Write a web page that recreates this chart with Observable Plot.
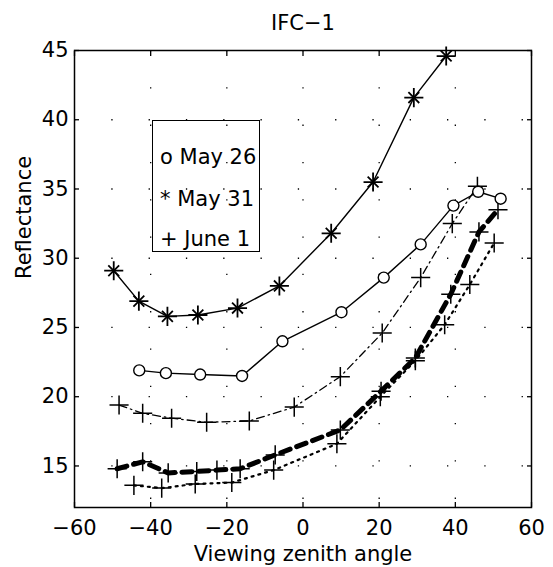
<!DOCTYPE html>
<html>
<head>
<meta charset="utf-8">
<script src="https://cdn.jsdelivr.net/npm/d3@7"></script>
<script src="https://cdn.jsdelivr.net/npm/@observablehq/plot@0.6"></script>
<style>
  html, body { margin: 0; padding: 0; background: white; }
  #wrap { position: relative; width: 553px; height: 567px; }
  #legend { position: absolute; left: 152px; top: 120px; width: 106px; height: 130px;
            border: 1.5px solid black; font-family: "DejaVu Sans", sans-serif; font-size: 21px; color: black; }
  #legend div { position: absolute; left: 7px; height: 24px; line-height: 24px; white-space: nowrap; }
</style>
</head>
<body>
<div id="wrap"></div>
<script>
const xTicks = [-60, -40, -20, 0, 20, 40, 60];
const yTicks = [15, 20, 25, 30, 35, 40, 45];
const legendLabels = ["o May 26", "* May 31", "+ June 1"];

const may26X = [-43, -36, -27, -16, -5.4, 10.1, 21.2, 30.9, 39.5, 46, 51.9];
const may26Y = [21.9, 21.7, 21.6, 21.5, 24.0, 26.1, 28.6, 31.0, 33.8, 34.8, 34.3];

const may31X = [-49.7, -43.1, -35.6, -27.6, -17.2, -6.2, 7.4, 18.4, 29.1, 37.6];
const may31Y = [29.1, 26.9, 25.8, 25.9, 26.4, 28.0, 31.8, 35.5, 41.6, 44.6];

const june1X = [-48.3, -42.1, -34.5, -25.3, -14.1, -2.3, 9.8, 20.8, 30.9, 39.2, 45.8];
const june1Y = [19.4, 18.8, 18.45, 18.15, 18.25, 19.25, 21.45, 24.6, 28.6, 32.5, 35.2];

const dashedX = [-48.8, -42.1, -35.4, -27.9, -22.6, -16.5, -7.3, 9.8, 20.5, 29.5, 38.8, 46.2, 51.2];
const dashedY = [14.8, 15.3, 14.5, 14.6, 14.7, 14.8, 15.8, 17.6, 20.4, 22.8, 27.4, 31.9, 33.5];

const dottedX = [-44.4, -37.1, -28.3, -18.7, -7.7, 8.9, 20.3, 29.5, 37.2, 43.8, 50.2];
const dottedY = [13.6, 13.4, 13.7, 13.8, 14.7, 16.6, 20.0, 22.6, 25.2, 28.1, 31.1];

const rows = (xs, ys) => xs.map((x, i) => ({x, y: ys[i]}));
const may26 = rows(may26X, may26Y);
const may31 = rows(may31X, may31Y);
const june1 = rows(june1X, june1Y);
const dashed = rows(dashedX, dashedY);
const dotted = rows(dottedX, dottedY);

const gridStyle = {stroke: "black", strokeOpacity: 1, strokeWidth: 1.3, strokeDasharray: "1.3,36"};

const chart = Plot.plot({
  width: 553,
  height: 567,
  marginTop: 50,
  marginLeft: 74,
  marginRight: 22,
  marginBottom: 60,
  style: {fontFamily: "DejaVu Sans, sans-serif", fontSize: "21px", background: "white", color: "black"},
  x: {domain: [-60, 60]},
  y: {domain: [12, 45]},
  marks: [
    Plot.gridX(xTicks.slice(1, -1), gridStyle),
    Plot.gridY(yTicks.slice(0, -1), gridStyle),

    Plot.line(dotted, {x: "x", y: "y", stroke: "black", strokeWidth: 2.2, strokeDasharray: "2,5"}),
    Plot.dot(dotted, {x: "x", y: "y", symbol: "plus", r: 6.2, stroke: "black", strokeWidth: 1.5}),

    Plot.line(dashed, {x: "x", y: "y", stroke: "black", strokeWidth: 5, strokeDasharray: "10,7"}),
    Plot.dot(dashed, {x: "x", y: "y", symbol: "plus", r: 6.2, stroke: "black", strokeWidth: 1.5}),

    Plot.line(june1, {x: "x", y: "y", stroke: "black", strokeWidth: 1.3, strokeDasharray: "8,4,1.5,4"}),
    Plot.dot(june1, {x: "x", y: "y", symbol: "plus", r: 6.2, stroke: "black", strokeWidth: 1.5}),

    Plot.line(may26, {x: "x", y: "y", stroke: "black", strokeWidth: 1.4}),
    Plot.dot(may26, {x: "x", y: "y", symbol: "circle", r: 5.5, stroke: "black", fill: "white", strokeWidth: 1.4}),

    Plot.line(may31, {x: "x", y: "y", stroke: "black", strokeWidth: 1.4}),
    Plot.dot(may31, {x: "x", y: "y", symbol: "plus", r: 6.2, stroke: "black", strokeWidth: 1.8}),
    Plot.dot(may31, {x: "x", y: "y", symbol: "times", r: 5, stroke: "black", strokeWidth: 1.8}),

    Plot.frame({stroke: "black", strokeWidth: 1.5}),

    Plot.axisX(xTicks, {anchor: "bottom", tickSize: -5, text: null, label: null, strokeWidth: 1.3}),
    Plot.axisX(xTicks, {anchor: "top", tickSize: -5, text: null, label: null, strokeWidth: 1.3}),
    Plot.axisY(yTicks, {anchor: "left", tickSize: -5, text: null, label: null, strokeWidth: 1.3}),
    Plot.axisY(yTicks, {anchor: "right", tickSize: -5, text: null, label: null, strokeWidth: 1.3}),

    Plot.axisX(xTicks, {anchor: "bottom", tickSize: 0, tickPadding: 13, label: null, fill: "black"}),
    Plot.axisY(yTicks, {anchor: "left", tickSize: 0, tickPadding: 6, label: null, fill: "black"}),

    Plot.text(["IFC−1"], {frameAnchor: "top", lineAnchor: "middle", dy: -27, fill: "black"}),
    Plot.text(["Viewing zenith angle"], {frameAnchor: "bottom", lineAnchor: "middle", dy: 47, fill: "black"}),
    Plot.text(["Reflectance"], {frameAnchor: "left", lineAnchor: "middle", rotate: -90, dx: -50, fill: "black"})
  ]
});

const wrap = document.getElementById("wrap");
wrap.appendChild(chart);
const legend = document.createElement("div");
legend.id = "legend";
const tops = [24, 66, 106];
legendLabels.forEach((t, i) => {
  const d = document.createElement("div");
  d.textContent = t;
  d.style.top = tops[i] + "px";
  legend.appendChild(d);
});
wrap.appendChild(legend);
</script>
</body>
</html>
